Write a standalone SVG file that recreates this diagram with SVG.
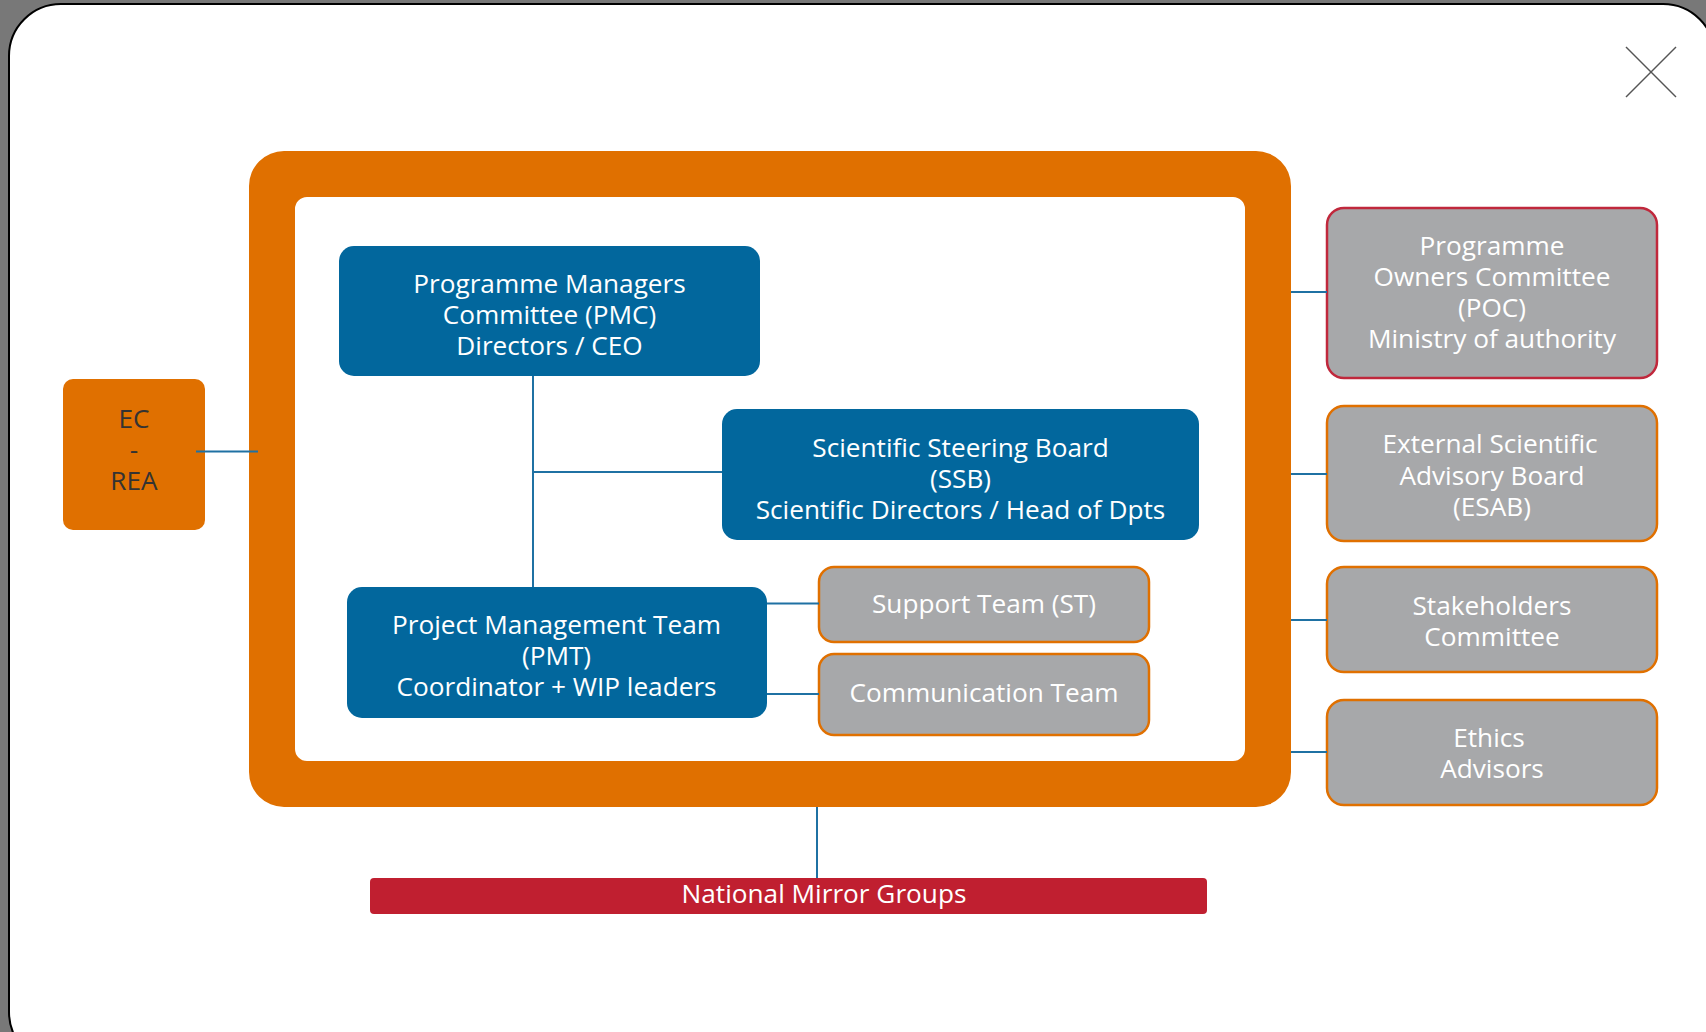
<svg xmlns="http://www.w3.org/2000/svg" width="1706" height="1032" viewBox="0 0 1706 1032">
<style>
  .t { font-family: "Open Sans", "Noto Sans", "Liberation Sans", sans-serif; font-size: 26.2px; text-anchor: middle; }
  .w { fill: #ffffff; }
  .d { fill: #333333; }
  .blue { fill: #02679d; }
  .grey { fill: #a7a8aa; stroke: #e07000; stroke-width: 2.5; }
  .greyr { fill: #a7a8aa; stroke: #c0283c; stroke-width: 2.5; }
  .conn line { stroke: #1f71a3; stroke-width: 2; }
</style>
<rect x="0" y="0" width="1706" height="1032" fill="#787878"/>
<rect id="modal" x="9" y="4" width="1706" height="1060" rx="52" fill="#ffffff" stroke="#000000" stroke-width="2"/>
<g id="close" stroke="#555555" stroke-width="1.5">
  <line x1="1626" y1="47" x2="1676" y2="97"/>
  <line x1="1676" y1="47" x2="1626" y2="97"/>
</g>
<g id="frame">
  <path fill="#e07000" fill-rule="evenodd" d="M284,151 H1256 A35,35 0 0 1 1291,186 V772 A35,35 0 0 1 1256,807 H284 A35,35 0 0 1 249,772 V186 A35,35 0 0 1 284,151 Z M307,197 A12,12 0 0 0 295,209 V749 A12,12 0 0 0 307,761 H1233 A12,12 0 0 0 1245,749 V209 A12,12 0 0 0 1233,197 Z"/>
</g>
<g id="ec-rea">
  <rect x="63" y="379" width="142" height="151" rx="10" fill="#e07000"/>
  <text class="t d" x="134" y="428"><tspan x="134" y="428">EC</tspan><tspan x="134" y="459">-</tspan><tspan x="134" y="490">REA</tspan></text>
</g>
<g id="pmc">
  <rect class="blue" x="339" y="246" width="421" height="130" rx="15"/>
  <text class="t w"><tspan x="549.5" y="293">Programme Managers</tspan><tspan x="549.5" y="324">Committee (PMC)</tspan><tspan x="549.5" y="355">Directors / CEO</tspan></text>
</g>
<g id="ssb">
  <rect class="blue" x="722" y="409" width="477" height="131" rx="15"/>
  <text class="t w"><tspan x="960.5" y="457">Scientific Steering Board</tspan><tspan x="960.5" y="488">(SSB)</tspan><tspan x="960.5" y="519">Scientific Directors / Head of Dpts</tspan></text>
</g>
<g id="pmt">
  <rect class="blue" x="347" y="587" width="420" height="131" rx="15"/>
  <text class="t w"><tspan x="556.5" y="634">Project Management Team</tspan><tspan x="556.5" y="665">(PMT)</tspan><tspan x="556.5" y="696">Coordinator + WIP leaders</tspan></text>
</g>
<g id="support-team">
  <rect class="grey" x="819" y="567" width="330" height="75" rx="15"/>
  <text class="t w" x="984" y="613">Support Team (ST)</text>
</g>
<g id="communication-team">
  <rect class="grey" x="819" y="654" width="330" height="81" rx="15"/>
  <text class="t w" x="984" y="702">Communication Team</text>
</g>
<g id="poc">
  <rect class="greyr" x="1327" y="208" width="330" height="170" rx="17"/>
  <text class="t w"><tspan x="1492" y="255">Programme</tspan><tspan x="1492" y="286">Owners Committee</tspan><tspan x="1492" y="317">(POC)</tspan><tspan x="1492" y="348">Ministry of authority</tspan></text>
</g>
<g id="esab">
  <rect class="grey" x="1327" y="406" width="330" height="135" rx="17"/>
  <text class="t w"><tspan x="1490" y="453">External Scientific</tspan><tspan x="1492" y="485">Advisory Board</tspan><tspan x="1492" y="516">(ESAB)</tspan></text>
</g>
<g id="stakeholders">
  <rect class="grey" x="1327" y="567" width="330" height="105" rx="17"/>
  <text class="t w"><tspan x="1492" y="615">Stakeholders</tspan><tspan x="1492" y="646">Committee</tspan></text>
</g>
<g id="ethics">
  <rect class="grey" x="1327" y="700" width="330" height="105" rx="17"/>
  <text class="t w"><tspan x="1489" y="747">Ethics</tspan><tspan x="1492" y="778">Advisors</tspan></text>
</g>
<g id="national-mirror-groups">
  <rect x="370" y="878" width="837" height="36" rx="4" fill="#c01f30"/>
  <text class="t w" x="824" y="903">National Mirror Groups</text>
</g>
<g class="conn" id="connectors">
  <line x1="196" y1="451.5" x2="258" y2="451.5"/>
  <line x1="533" y1="376" x2="533" y2="587"/>
  <line x1="533" y1="472" x2="722" y2="472"/>
  <line x1="767" y1="603.5" x2="819" y2="603.5"/>
  <line x1="767" y1="694" x2="819" y2="694"/>
  <line x1="1291" y1="292" x2="1327" y2="292"/>
  <line x1="1291" y1="474" x2="1327" y2="474"/>
  <line x1="1291" y1="620" x2="1327" y2="620"/>
  <line x1="1291" y1="752" x2="1327" y2="752"/>
  <line x1="817" y1="807" x2="817" y2="878"/>
</g>
</svg>
